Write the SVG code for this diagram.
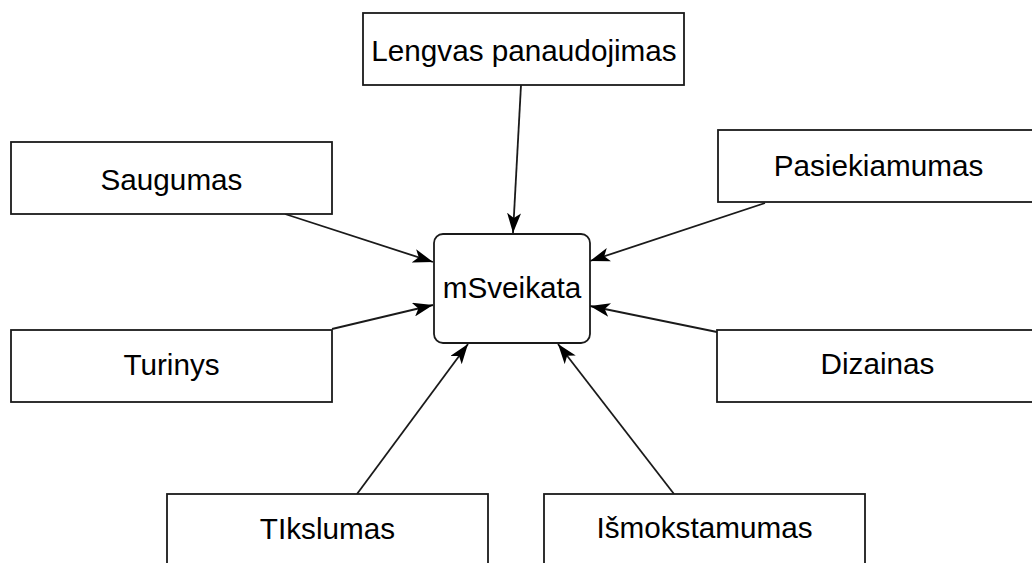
<svg xmlns="http://www.w3.org/2000/svg" width="1032" height="563" viewBox="0 0 1032 563">
  <style>
    .box { fill: #ffffff; stroke: #1a1a1a; stroke-width: 1.8; }
    .lbl { font-family: "Liberation Sans", Arial, sans-serif; font-size: 29.7px; fill: #000000; text-anchor: middle; }
    .edge { fill: none; stroke: #1a1a1a; stroke-width: 1.8; marker-end: url(#arrow); }
  </style>
  <defs>
    <marker id="arrow" viewBox="0 0 20 14" refX="20" refY="7" markerWidth="20" markerHeight="14" markerUnits="userSpaceOnUse" orient="auto">
      <path d="M0,0 L20,7 L0,14 L5,7 Z" fill="#000000"/>
    </marker>
  </defs>
  <rect x="0" y="0" width="1032" height="563" fill="#ffffff"/>

  <!-- connectors: every factor points to the central node -->
  <g id="connectors">
    <line class="edge" x1="521" y1="85" x2="513" y2="233"/>
    <line class="edge" x1="285" y1="214" x2="433" y2="262"/>
    <line class="edge" x1="332" y1="329" x2="433" y2="305"/>
    <line class="edge" x1="765" y1="203" x2="590" y2="261"/>
    <line class="edge" x1="717" y1="332" x2="590" y2="306"/>
    <line class="edge" x1="357" y1="494" x2="468" y2="344"/>
    <line class="edge" x1="674" y1="494" x2="558" y2="344"/>
  </g>

  <g id="node-center">
    <rect class="box" x="434" y="234" width="156" height="109" rx="9" ry="9"/>
    <text class="lbl" x="512" y="298">mSveikata</text>
  </g>

  <g id="node-lengvas">
    <rect class="box" x="363" y="13" width="321" height="72"/>
    <text class="lbl" x="524" y="61">Lengvas panaudojimas</text>
  </g>

  <g id="node-saugumas">
    <rect class="box" x="11" y="142" width="321" height="72"/>
    <text class="lbl" x="171.5" y="190">Saugumas</text>
  </g>

  <g id="node-pasiekiamumas">
    <rect class="box" x="718" y="130" width="321" height="72"/>
    <text class="lbl" x="878.5" y="176">Pasiekiamumas</text>
  </g>

  <g id="node-turinys">
    <rect class="box" x="11" y="330" width="321" height="72"/>
    <text class="lbl" x="171.5" y="375">Turinys</text>
  </g>

  <g id="node-dizainas">
    <rect class="box" x="717" y="330" width="321" height="72"/>
    <text class="lbl" x="877.5" y="374">Dizainas</text>
  </g>

  <g id="node-tikslumas">
    <rect class="box" x="167" y="494" width="321" height="72"/>
    <text class="lbl" x="327.5" y="539">TIkslumas</text>
  </g>

  <g id="node-ismokstamumas">
    <rect class="box" x="544" y="494" width="321" height="72"/>
    <text class="lbl" x="704.5" y="538">Išmokstamumas</text>
  </g>
</svg>
